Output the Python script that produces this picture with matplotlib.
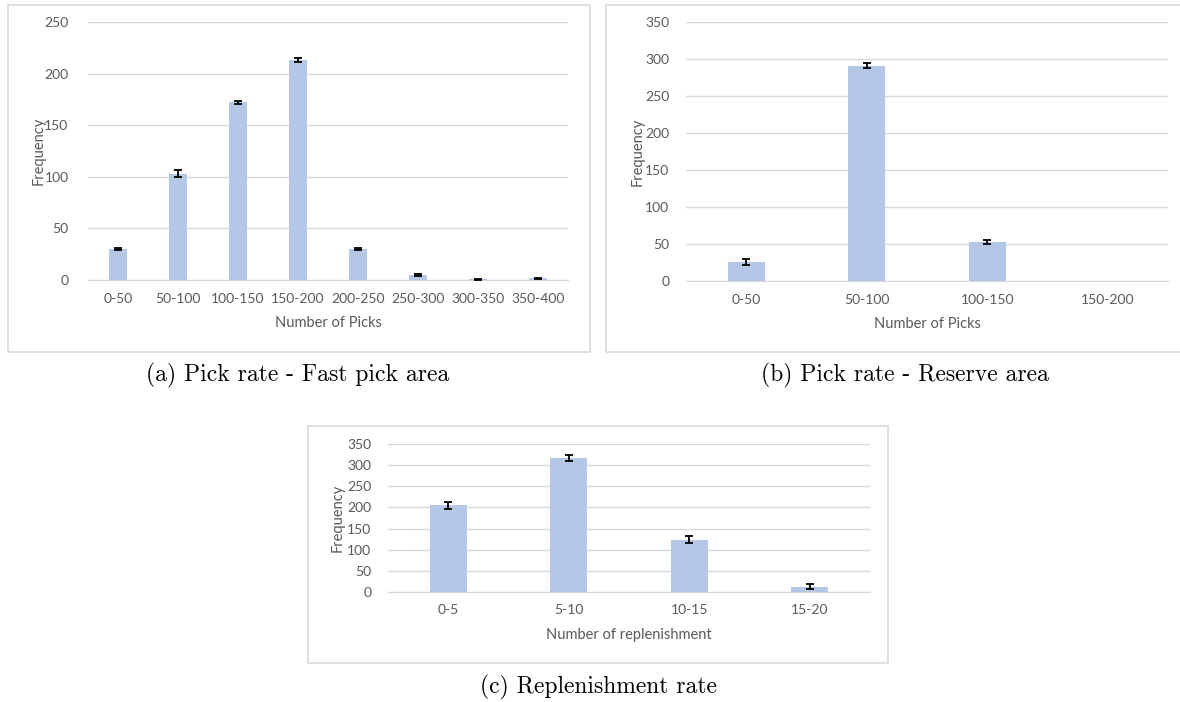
import matplotlib.pyplot as plt
from matplotlib.patches import Rectangle

# pick rate, fast pick area
fast_bins = ["0-50", "50-100", "100-150", "150-200", "200-250", "250-300", "300-350", "350-400"]
fast_freq = [30, 103, 172, 213, 30, 5, 0.5, 1.5]
fast_err = [1, 3.5, 1, 2, 0.6, 0.8, 0.3, 0.5]

# pick rate, reserve area
reserve_bins = ["0-50", "50-100", "100-150", "150-200"]
reserve_freq = [26, 291, 53, 0]
reserve_err = [4, 3, 2.5, 0]

# replenishment rate
repl_bins = ["0-5", "5-10", "10-15", "15-20"]
repl_freq = [205, 317, 124, 13]
repl_err = [8, 8, 9, 7]

W, H = 1180, 702
BAR = "#b4c7e7"
GRID = "#d9d9d9"
TXT = "#595959"

plt.rcParams['font.family'] = ['Lato', 'DejaVu Sans']

fig = plt.figure(figsize=(W / 100, H / 100), dpi=100)


def px_rect(x0, y0, x1, y1):
    # pixel box (top-left origin) -> figure fraction [l, b, w, h]
    return [x0 / W, 1 - y1 / H, (x1 - x0) / W, (y1 - y0) / H]


def panel(box, rect, cats, vals, errs, ymax, step, xlabel, ylabel_x, ytick_pad):
    bx = px_rect(*box)
    fig.patches.append(Rectangle((bx[0], bx[1]), bx[2], bx[3], transform=fig.transFigure,
                                 facecolor="none", edgecolor=GRID, lw=1.2, zorder=-1))
    ax = fig.add_axes(px_rect(*rect))
    x = list(range(len(cats)))
    ax.bar(x, vals, width=0.31, color=BAR, zorder=2)
    # empty bins get no error bar
    keep = [i for i in x if errs[i] > 0]
    ax.errorbar(keep, [vals[i] for i in keep], yerr=[errs[i] for i in keep], fmt="none",
                ecolor="black", elinewidth=1.3, capsize=3, capthick=1.3, zorder=3)
    ax.set_xlim(-0.5, len(cats) - 0.5)
    ax.set_ylim(0, ymax)
    ax.set_yticks(range(0, ymax + 1, step))
    ax.set_xticks(x)
    ax.set_xticklabels(cats)
    ax.yaxis.grid(True, color=GRID, lw=1)
    ax.set_axisbelow(True)
    for s in ["top", "right", "left"]:
        ax.spines[s].set_visible(False)
    ax.spines["bottom"].set_color(GRID)
    ax.tick_params(length=0, colors=TXT, labelsize=10)
    ax.tick_params(axis="y", pad=ytick_pad)
    ax.tick_params(axis="x", pad=9)
    ax.set_xlabel(xlabel, color=TXT, fontsize=10.5, labelpad=8)
    ax.set_ylabel("Frequency", color=TXT, fontsize=10.5)
    ax.yaxis.set_label_coords(ylabel_x, 0.5)
    ax.set_facecolor("none")
    return ax


panel((8, 5, 590, 352), (88, 22, 568, 280), fast_bins, fast_freq, fast_err,
      250, 50, "Number of Picks", -0.088, 14)
panel((606, 5, 1188, 352), (686, 22, 1168, 281), reserve_bins, reserve_freq, reserve_err,
      350, 50, "Number of Picks", -0.085, 12)
panel((308, 426, 888, 663), (388, 444, 870, 592), repl_bins, repl_freq, repl_err,
      350, 50, "Number of replenishment", -0.089, 12)

cap_font = ['cmr10', 'DejaVu Serif']
fig.text(298 / W, 1 - 375 / H, "(a) Pick rate - Fast pick area", ha="center", va="center",
         fontsize=17, family=cap_font)
fig.text(905 / W, 1 - 375 / H, "(b) Pick rate - Reserve area", ha="center", va="center",
         fontsize=17, family=cap_font)
fig.text(598 / W, 1 - 687 / H, "(c) Replenishment rate", ha="center", va="center",
         fontsize=17, family=cap_font)

fig.savefig("out.png", dpi=100)
